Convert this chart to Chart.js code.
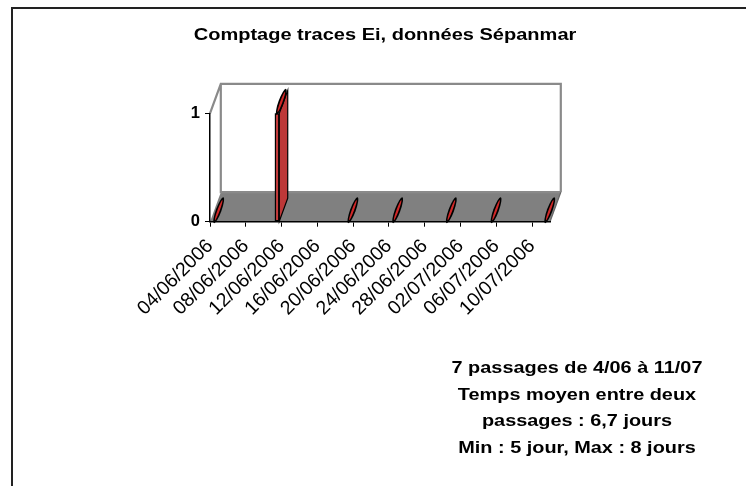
<!DOCTYPE html>
<html>
<head>
<meta charset="utf-8">
<script src="https://cdn.jsdelivr.net/npm/chart.js@4"></script>
<style>
  html, body { margin: 0; padding: 0; background: #fff; overflow: hidden; }
  #wrap { position: relative; width: 746px; height: 486px; }
  #c { position: absolute; left: 0; top: 0; }
  .txt { position: absolute; font-family: "Liberation Sans", Arial, sans-serif; font-weight: bold; color: #000;
         text-align: center; white-space: nowrap; transform: scaleX(1.221); transform-origin: 50% 50%; }
  #title { left: 185px; width: 400px; top: 24px; font-size: 16.4px; line-height: 20px; }
  #note { left: 426.7px; width: 300px; top: 354px; font-size: 16.3px; line-height: 26.5px; }
</style>
</head>
<body>
<div id="wrap">
  <canvas id="c" width="746" height="486"></canvas>
  <div id="title" class="txt">Comptage traces Ei, données Sépanmar</div>
  <div id="note" class="txt">7 passages de 4/06 à 11/07<br>Temps moyen entre deux<br>passages : 6,7 jours<br>Min : 5 jour, Max : 8 jours</div>
</div>
<script>
// ---- data ----
const tickLabels = ['04/06/2006', '08/06/2006', '12/06/2006', '16/06/2006', '20/06/2006',
                    '24/06/2006', '28/06/2006', '02/07/2006', '06/07/2006', '10/07/2006'];
const passageDates = ['04/06/2006', '11/06/2006', '19/06/2006', '24/06/2006',
                      '30/06/2006', '05/07/2006', '11/07/2006'];
const eiCounts = [0, 1, 0, 0, 0, 0, 0];
const yTicks = [0, 1];
const axisStart = '04/06/2006';
const axisEnd = '12/07/2006';

function dayNum(s) {
  const [d, m, y] = s.split('/').map(Number);
  return Date.UTC(y, m - 1, d) / 86400000;
}
const day0 = dayNum(axisStart);
const points = passageDates.map((d, i) => ({ x: dayNum(d) - day0 + 0.5, y: eiCounts[i] }));

const DX = 10.8, DY = -29.5;

const depth3d = {
  id: 'depth3d',
  beforeDraw(chart) {
    const { ctx, chartArea: a } = chart;
    ctx.save();
    // outer frame (top & left)
    ctx.fillStyle = '#222';
    ctx.fillRect(11, 7, chart.width, 2);
    ctx.fillRect(11, 7, 2, chart.height);
    // floor
    ctx.fillStyle = '#808080';
    ctx.beginPath();
    ctx.moveTo(a.left, a.bottom);
    ctx.lineTo(a.right, a.bottom);
    ctx.lineTo(a.right + DX, a.bottom + DY);
    ctx.lineTo(a.left + DX, a.bottom + DY);
    ctx.closePath();
    ctx.fill();
    // walls frame
    ctx.strokeStyle = '#8a8a8a';
    ctx.lineWidth = 2.2;
    ctx.beginPath();
    ctx.moveTo(a.left, a.top);
    ctx.lineTo(a.left + DX, a.top + DY);
    ctx.lineTo(a.right + DX, a.top + DY);
    ctx.lineTo(a.right + DX, a.bottom + DY);
    ctx.moveTo(a.left + DX, a.top + DY);
    ctx.lineTo(a.left + DX, a.bottom + DY);
    ctx.lineTo(a.right + DX, a.bottom + DY);
    ctx.stroke();
    // floor right edge
    ctx.strokeStyle = '#666';
    ctx.lineWidth = 1.2;
    ctx.beginPath();
    ctx.moveTo(a.right, a.bottom);
    ctx.lineTo(a.right + DX, a.bottom + DY);
    ctx.stroke();
    ctx.restore();
  },
  afterDatasetsDraw(chart) {
    const { ctx } = chart;
    const meta = chart.getDatasetMeta(0);
    const ex = 0.78 * DX, ey = 0.78 * DY;
    ctx.save();
    meta.data.forEach(el => {
      const { x, y, base, width } = el.getProps(['x', 'y', 'base', 'width'], true);
      const xr = x + width / 2;
      if (base - y > 1) {
        ctx.fillStyle = '#bd3838';
        ctx.strokeStyle = '#000';
        ctx.lineWidth = 1.2;
        ctx.beginPath();
        ctx.moveTo(xr, base);
        ctx.lineTo(xr + ex, base + ey);
        ctx.lineTo(xr + ex, y + ey);
        ctx.lineTo(xr, y);
        ctx.closePath();
        ctx.fill();
        ctx.stroke();
      }
      const cx = x + ex / 2, cy = y + ey / 2;
      const rot = Math.atan2(ey, ex);
      const rx = Math.hypot(ex, ey) / 2 + 1.5;
      const ry = width / 2 + 0.6;
      ctx.fillStyle = '#000';
      ctx.beginPath();
      ctx.ellipse(cx, cy, rx, ry, rot, 0, Math.PI * 2);
      ctx.fill();
      ctx.fillStyle = '#d02828';
      ctx.beginPath();
      ctx.ellipse(cx, cy, rx - 3, Math.max(ry - 1.7, 0.6), rot, 0, Math.PI * 2);
      ctx.fill();
    });
    ctx.restore();
  }
};

new Chart(document.getElementById('c'), {
  type: 'bar',
  data: {
    datasets: [{
      label: 'Comptage traces Ei',
      data: points,
      backgroundColor: '#c83c3c',
      borderColor: '#000',
      borderWidth: 1.5,
      borderSkipped: false,
      barThickness: 4.4
    }]
  },
  options: {
    responsive: false,
    animation: false,
    layout: { padding: { left: 174, right: 196, top: 113.3, bottom: 0 } },
    plugins: { legend: { display: false }, title: { display: false }, tooltip: { enabled: false } },
    scales: {
      x: {
        type: 'linear',
        min: 0,
        max: dayNum(axisEnd) - day0,
        offset: false,
        grid: { display: true, drawOnChartArea: false, offset: false, color: '#000', tickLength: 5, lineWidth: 1 },
        border: { display: true, color: '#000', width: 1.5 },
        ticks: {
          stepSize: 4,
          includeBounds: false,
          autoSkip: false,
          minRotation: 45,
          maxRotation: 45,
          padding: 8,
          color: '#000',
          font: { family: '"Liberation Sans", Arial, sans-serif', size: 19.5 },
          callback: (v) => tickLabels[v / 4] !== undefined ? tickLabels[v / 4] : ''
        },
        afterFit: (s) => { s.height = 486 - 221.7; }
      },
      y: {
        min: 0,
        max: 1,
        grid: { display: true, drawOnChartArea: false, color: '#000', tickLength: 5, lineWidth: 1 },
        border: { display: true, color: '#000', width: 1.5 },
        ticks: {
          stepSize: 1,
          padding: 5,
          color: '#000',
          font: { family: '"Liberation Sans", Arial, sans-serif', size: 16.5, weight: 'bold' },
          callback: (v) => yTicks.includes(v) ? String(v) : ''
        },
        afterFit: (s) => { s.width = 36; }
      }
    }
  },
  plugins: [depth3d]
});
</script>
</body>
</html>
